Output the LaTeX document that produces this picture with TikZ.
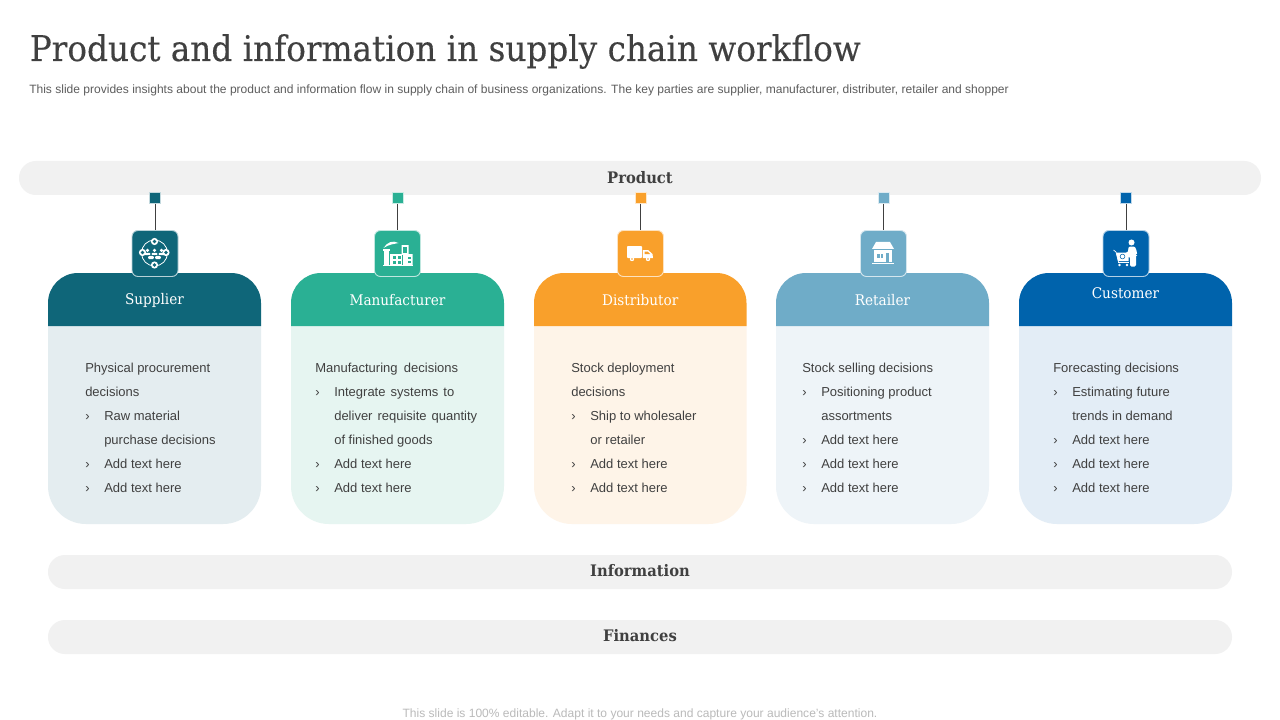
\documentclass[tikz,border=0pt]{standalone}
\usepackage{fontspec}
\setmainfont{Liberation Sans}
\newfontfamily\serifhead{DejaVu Serif}[FakeStretch=0.93]
\newfontfamily\serifttl{DejaVu Serif}[FakeStretch=0.925,FakeBold=0.25]
\definecolor{cA}{HTML}{0F6679}
\definecolor{cB}{HTML}{2AB094}
\definecolor{cC}{HTML}{F9A02B}
\definecolor{cD}{HTML}{6FACC8}
\definecolor{cE}{HTML}{0063AC}
\definecolor{bA}{HTML}{E4EDF0}
\definecolor{bB}{HTML}{E6F5F1}
\definecolor{bC}{HTML}{FEF4E8}
\definecolor{bD}{HTML}{EEF4F8}
\definecolor{bE}{HTML}{E3EDF6}
\definecolor{barc}{HTML}{F1F1F1}
\definecolor{ink}{HTML}{404040}
\newcommand{\bul}{\makebox[14.25pt][l]{›}}
\newcommand{\ind}{\hspace*{14.25pt}}
\tikzset{
  x=0.75pt,y=-0.75pt,
  bartext/.style={font=\serifhead\bfseries\fontsize{11.9}{14}\selectfont,text=ink},
  headtext/.style={font=\serifhead\fontsize{11}{14}\selectfont,text=white},
  bodytext/.style={font=\fontsize{9.75}{18}\selectfont,text=ink,align=left,anchor=north west,inner sep=0pt},
  tickbox/.style={minimum size=8pt,inner sep=0pt,line width=.5pt},
  iconbox/.style={minimum size=34.5pt,inner sep=0pt,rounded corners=4.5pt,line width=.7pt},
  link/.style={draw=ink,line width=.75pt},
}
\newcommand{\card}[7]{% x0, x1, head, body, name, label, labely
  \fill[#4] (#1,326) [rounded corners=28.5pt] -- (#1,524) -- (#2,524) [sharp corners] -- (#2,326) -- cycle;
  \fill[#3] (#1,326) [rounded corners=22.5pt] -- (#1,273) -- (#2,273) [sharp corners] -- (#2,326) -- cycle;
  \node[headtext] (h#5) at ({(#1+#2)/2},#7) {#6};
}
\begin{document}
\begin{tikzpicture}
\useasboundingbox (0,0) rectangle (1280,720);
\fill[white] (0,0) rectangle (1280,720);
\node[anchor=base west,inner sep=0pt,text=ink,font=\serifttl\fontsize{26.5}{30}\selectfont] (title) at (29.5,61) {Product and information in supply chain workflow};
\node[anchor=base west,inner sep=0pt,text=ink!85,font=\fontsize{9.03}{11}\selectfont] (sub) at (29,94) {This slide provides insights about the product and information flow in supply chain of business organizations. The key parties are supplier, manufacturer, distributer, retailer and shopper};
\node[anchor=base,inner sep=0pt,text=black!27,font=\fontsize{9.03}{11}\selectfont] (foot) at (640,717) {This slide is 100\% editable. Adapt it to your needs and capture your audience's attention.};

\fill[barc,rounded corners=12.7pt] (19,161) rectangle (1261,195);
\node[bartext] (prod) at (640,178) {Product};
\fill[barc,rounded corners=12.7pt] (48,555) rectangle (1232,589);
\node[bartext] (info) at (640,571) {Information};
\fill[barc,rounded corners=12.7pt] (48,620) rectangle (1232,654);
\node[bartext] (fin) at (640,636) {Finances};

\card{48}{261}{cA}{bA}{a}{Supplier}{300.5}
\card{291}{504}{cB}{bB}{b}{Manufacturer}{300.5}
\card{534}{746.5}{cC}{bC}{c}{Distributor}{300.5}
\card{776}{989}{cD}{bD}{d}{Retailer}{300.5}
\card{1019}{1232}{cE}{bE}{e}{Customer}{293.5}

\foreach \n/\cx/\col in {a/155/cA,b/397.5/cB,c/640.5/cC,d/883.5/cD,e/1126/cE}{
  \node[tickbox,fill=\col,draw=\col!25!white] (t\n) at (\cx,198) {};
  \node[iconbox,fill=\col,draw=\col!30!white] (i\n) at (\cx,253.5) {};
  \draw[link] (t\n) -- (i\n);
}

% body text
\node[bodytext] (ba) at (85,363) {Physical procurement\\decisions\\\bul Raw material\\\ind purchase decisions\\\bul Add text here\\\bul Add text here};
\node[bodytext] (bb) at (315,363) {\makebox[107.2pt][s]{Manufacturing decisions}\\\bul\makebox[90pt][s]{Integrate systems to}\\\ind\makebox[107.2pt][s]{deliver requisite quantity}\\\ind of finished goods\\\bul Add text here\\\bul Add text here};
\node[bodytext] (bc) at (571,363) {Stock deployment\\decisions\\\bul Ship to wholesaler\\\ind or retailer\\\bul Add text here\\\bul Add text here};
\node[bodytext] (bd) at (802,363) {Stock selling decisions\\\bul Positioning product\\\ind assortments\\\bul Add text here\\\bul Add text here\\\bul Add text here};
\node[bodytext] (be) at (1053,363) {Forecasting decisions\\\bul Estimating future\\\ind trends in demand\\\bul Add text here\\\bul Add text here\\\bul Add text here};

% supplier icon
\begin{scope}[shift={(154.5,253)}]
  \draw[white,line width=.6pt] (0,0) circle (13);
  \foreach \p in {(0,-11.5),(-12,-.5),(11.5,-.5),(0,12)}{\fill[white] \p circle (3.6);\fill[cA] \p circle (1.9);}
  \foreach \xx in {-7,0,7}{\fill[white] (\xx,-2.6) circle (1.8);\fill[white,rounded corners=.8pt] ({\xx-3},2.2) rectangle ({\xx+3},-.2);}
  \foreach \xx in {-3.5,3.5}{\fill[white] (\xx,1.2) circle (0);\fill[cA] ({\xx-3.2},2.2) rectangle ({\xx+3.2},2.8);\fill[white,rounded corners=.8pt] ({\xx-2.8},6.2) rectangle ({\xx+2.8},2.8);}
\end{scope}
% factory icon
\begin{scope}[shift={(397.5,253)}]
  \fill[white] (-15,12) rectangle (15,13);
  \fill[white] (-13.5,-2) -- (-9,-2) -- (-9,12) -- (-13.5,12) -- cycle;
  \fill[white] (-14.5,-4) rectangle (-8,-2);
  \fill[white] (-14,-5) .. controls (-10,-11) and (-5,-13) .. (1,-10) .. controls (-3,-9) and (-8,-9) .. (-14,-5) -- cycle;
  \fill[white] (-7.5,1) -- (4,1) -- (4,-8) -- (11,-8) -- (11,1) -- (15,1) -- (15,12) -- (-7.5,12) -- cycle;
  \fill[cB] (5.5,-6.5) rectangle (9.5,0);
  \foreach \xx in {-5,0}{\fill[cB] (\xx,3) rectangle ({\xx+3.5},6);\fill[cB] (\xx,7.5) rectangle ({\xx+3.5},10.5);}
  \fill[cB] (4.5,2) rectangle (5.5,12);
  \fill[cB] (10.5,4) rectangle (13.5,6);\fill[cB] (10.5,8) rectangle (13.5,10);
\end{scope}
% truck icon
\begin{scope}[shift={(640,253)}]
  \fill[white,rounded corners=.6pt] (-13,-7) rectangle (2,5);
  \fill[white] (2.8,-3) -- (8,-3) -- (12.5,1) -- (13,5) -- (2.8,5) -- cycle;
  \fill[cC] (4.5,-1.5) -- (7.5,-1.5) -- (10,1) -- (4.5,1) -- cycle;
  \foreach \xx in {-8,8}{\fill[white] (\xx,6) circle (2.2);\fill[cC] (\xx,6) circle (.8);}
\end{scope}
% store icon
\begin{scope}[shift={(883,253)}]
  \fill[white] (-7,-11) -- (7,-11) -- (11,-4) -- (-11,-4) -- cycle;
  \fill[white] (-9,-3) rectangle (9,9);
  \fill[white] (-11,9.5) rectangle (11,10.5);
  \fill[cD] (-6,1) rectangle (0,5);
  \fill[white] (-3.5,1) rectangle (-2.5,5);
  \fill[cD] (3,0) rectangle (6,9);
  \draw[cD,line width=.4pt] (-11,-4) -- (11,-4);
\end{scope}
% customer icon
\begin{scope}[shift={(1126,253)}]
  \fill[white] (5.5,-10.5) circle (3);
  \fill[white,rounded corners=1pt] (2.5,-6.5) -- (9,-6.5) -- (11,-1) -- (11,2) -- (10,2) -- (10,13.5) -- (4,13.5) -- (4,4) -- (1,2) -- (-1,2) -- (-1,-.5) -- (2,-.5) -- cycle;
  \draw[white,line width=.5pt] (-12.5,-3) -- (-10,-1) -- (-7.5,9);
  \fill[white] (-10,-.5) -- (3,-.5) -- (2.5,8) -- (-8,8) -- cycle;
  \draw[cE,line width=.4pt] (-3.5,3.5) circle (2.4);
  \draw[white,line width=.6pt] (-8,9.5) -- (2.5,9.5);
  \fill[white] (-6.5,12) circle (1.4);\fill[white] (1,12) circle (1.4);
\end{scope}
\end{tikzpicture}
\end{document}
